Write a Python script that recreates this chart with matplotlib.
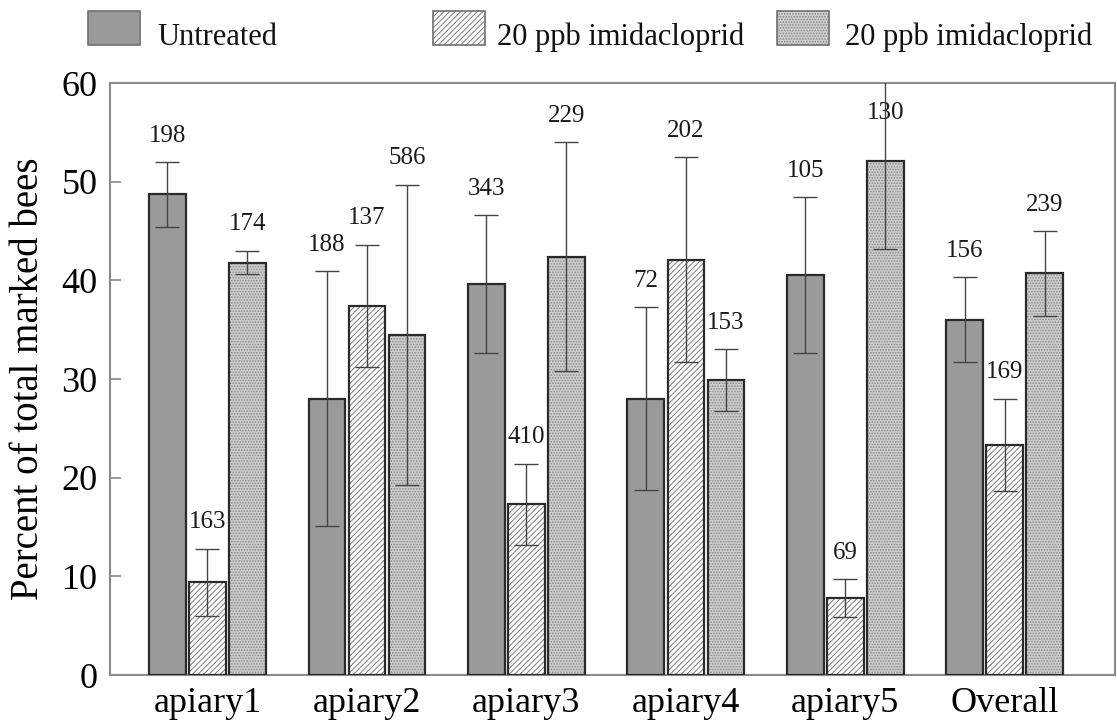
import matplotlib
matplotlib.use("Agg")
import matplotlib.pyplot as plt
from matplotlib.patches import Rectangle
import numpy as np

plt.rcParams['font.family'] = ['Liberation Serif', 'DejaVu Serif']
plt.rcParams['hatch.linewidth'] = 0.8

categories = ["apiary1", "apiary2", "apiary3", "apiary4", "apiary5", "Overall"]
series_names = ["Untreated", "20 ppb imidacloprid", "20 ppb imidacloprid"]

untreated = [48.7, 28.0, 39.6, 28.0, 40.5, 36.0]
untreated_err = [3.3, 12.9, 7.0, 9.3, 7.9, 4.3]
untreated_n = [198, 188, 343, 72, 105, 156]

imid_a = [9.4, 37.4, 17.3, 42.1, 7.8, 23.3]
imid_a_err = [3.4, 6.2, 4.1, 10.4, 1.9, 4.7]
imid_a_n = [163, 137, 410, 202, 69, 169]

imid_b = [41.8, 34.5, 42.4, 29.9, 52.1, 40.7]
imid_b_err = [1.2, 15.2, 11.6, 3.1, 8.9, 4.3]
imid_b_n = [174, 586, 229, 153, 130, 239]

yticks = [0, 10, 20, 30, 40, 50, 60]

styles = [
    dict(face="#9a9a9a", hatch=None, hcol=None),
    dict(face="white", hatch="//////", hcol="#8a8a8a"),
    dict(face="#cdcdcd", hatch="......", hcol="#8c8c8c"),
]

fig = plt.figure(figsize=(11.17, 7.28), dpi=100)
ax = fig.add_axes([110/1117, 1-675/728, (1115-110)/1117, (675-83)/728])

x = np.arange(len(categories))
width = 0.23
offsets = [-0.251, 0.0, 0.251]
ymax = 60

all_vals = [untreated, imid_a, imid_b]
all_err = [untreated_err, imid_a_err, imid_b_err]
all_n = [untreated_n, imid_a_n, imid_b_n]

for vals, errs, ns, off, st in zip(all_vals, all_err, all_n, offsets, styles):
    xs = x + off
    if st["hatch"]:
        ax.bar(xs, vals, width, color=st["face"], hatch=st["hatch"],
               edgecolor=st["hcol"], linewidth=0, zorder=2)
        ax.bar(xs, vals, width, fill=False, edgecolor="#2a2a2a",
               linewidth=1.6, zorder=3)
    else:
        ax.bar(xs, vals, width, color=st["face"], edgecolor="#2a2a2a",
               linewidth=1.6, zorder=3)
    ax.errorbar(xs, vals, yerr=errs, fmt="none", ecolor="#444444",
                elinewidth=1.0, capsize=8.5, capthick=1.0, zorder=4)
    for xi, v, e, n in zip(xs, vals, errs, ns):
        top = v + e
        if top > ymax:
            ax.text(xi, ymax - 3, str(n), ha="center", va="center",
                    fontsize=18, color="#1a1a1a", zorder=5)
        else:
            ax.annotate(str(n), (xi, top), xytext=(0, 19),
                        textcoords="offset points", ha="center", va="center",
                        fontsize=18, color="#1a1a1a", zorder=5)

ax.set_xlim(-0.611, 5.691)
ax.set_ylim(0, ymax)
ax.set_yticks(yticks)
ax.set_xticks(x)
ax.set_xticklabels(categories, fontsize=26)
ax.tick_params(axis="y", direction="in", length=8, width=1.2, color="#888888",
               labelsize=26, pad=9)
ax.tick_params(axis="x", length=0, pad=9)
for sp in ax.spines.values():
    sp.set_color("#8a8a8a")
    sp.set_linewidth(1.5)
ax.set_ylabel("Percent of total marked bees", fontsize=28, labelpad=10)

# legend drawn at top
W, H = 1117, 728
leg_boxes = [88, 433, 777]
leg_texts = [157, 497, 845]
for i, (bx, tx) in enumerate(zip(leg_boxes, leg_texts)):
    st = styles[i]
    r = Rectangle((bx / W, 1 - 45 / H), 52 / W, 34 / H, transform=fig.transFigure,
                  facecolor=st["face"], edgecolor=st["hcol"] if st["hatch"] else "#707070",
                  hatch=st["hatch"], linewidth=0 if st["hatch"] else 1.2)
    fig.add_artist(r)
    if st["hatch"]:
        fig.add_artist(Rectangle((bx / W, 1 - 45 / H), 52 / W, 34 / H,
                                 transform=fig.transFigure, fill=False,
                                 edgecolor="#707070", linewidth=1.2))
    fig.text(tx / W, 1 - 45 / H, series_names[i], fontsize=22, ha="left",
             va="baseline", color="#111111")

fig.savefig("out.png", dpi=100)
